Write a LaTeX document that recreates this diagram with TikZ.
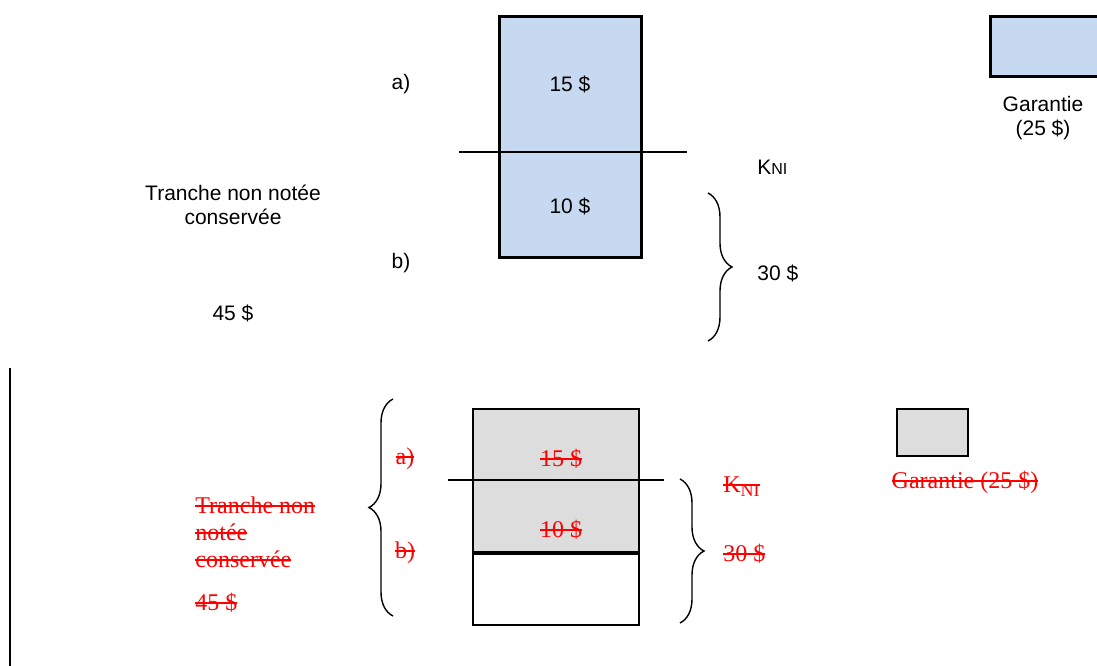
\documentclass[tikz,border=0pt]{standalone}
\usepackage{fontspec}
\setmainfont{Liberation Serif}
\newfontfamily\arialfont{Liberation Sans}
\usepackage{tikz}
\usetikzlibrary{decorations.pathreplacing}
\definecolor{bleu}{RGB}{198,217,240}
\definecolor{gris}{RGB}{221,221,221}
\newcommand{\barrer}[1]{\setbox0\hbox{#1}\rlap{\raisebox{0.27em}{\rule{\wd0}{1pt}}}\box0}

\begin{document}
\begin{tikzpicture}[x=0.5pt, y=-0.5pt,
	sans/.style = {font=\arialfont\fontsize{10.5}{12.2}\selectfont, align=center},
	barre/.style = {text=red, font=\fontsize{12}{13.5}\selectfont, inner sep=0pt},
	haut/.style = {draw, line width=1.5pt, fill=bleu, inner sep=0pt},
	bas/.style = {draw, line width=1pt, inner sep=0pt},
	accolade/.style = {decorate, decoration={brace, amplitude=12pt}, line width=0.7pt}]
		\clip (0,0) rectangle (1097,665);
		% partie du haut
		\node[haut, minimum width=71pt, minimum height=120.5pt] (pile) at (570,137) {};
		\node[haut, minimum width=60pt, minimum height=30pt] (garantie) at (1050,46.5) {};
		\node[sans] (a) at (401,84) {a)};
		\node[sans] (quinze) at (570,84) {15 \$};
		\node[sans] (dix) at (570,206) {10 \$};
		\node[sans] (b) at (401,263) {b)};
		\coordinate (kg) at (459,152);
		\coordinate (kd) at (687,152);
		\draw[line width=1pt] (kg) -- (kd);
		\node[sans, anchor=west, inner sep=0pt] (kni) at (757,167) {K{\fontsize{8}{9}\selectfont NI}};
		\coordinate (ah) at (708,193);
		\coordinate (ab) at (708,341);
		\draw[accolade] (ah) -- (ab);
		\node[sans, anchor=west, inner sep=0pt] (trente) at (757,273) {30 \$};
		\node[sans] (tranche) at (233,205) {Tranche non notée\\conservée};
		\node[sans] (quarante) at (233,313) {45 \$};
		\node[sans] (texteg) at (1043,118) {Garantie\\(25 \$)};
		% partie du bas
		\coordinate (vh) at (10,368);
		\coordinate (vb) at (10,670);
		\draw[line width=1pt] (vh) -- (vb);
		\node[bas, fill=gris, minimum width=83pt, minimum height=71.5pt] (gris) at (556,480.5) {};
		\node[bas, minimum width=83pt, minimum height=35.5pt, anchor=north] (blanc) at (gris.south) {};
		\node[bas, fill=gris, minimum width=35.5pt, minimum height=23.5pt] (rgarantie) at (932.5,432.5) {};
		\node[barre] (ra) at (405,459) {\barrer{a)}};
		\node[barre] (rquinze) at (561,459) {\barrer{15 \$}};
		\node[barre] (rdix) at (561,530) {\barrer{10 \$}};
		\node[barre] (rb) at (405,553) {\barrer{b)}};
		\coordinate (rkg) at (448,480);
		\coordinate (rkd) at (664,480);
		\draw[line width=1pt] (rkg) -- (rkd);
		\coordinate (gh) at (393,399);
		\coordinate (gb) at (393,616);
		\draw[accolade] (gb) -- (gh);
		\coordinate (dh) at (680,479);
		\coordinate (db) at (680,623);
		\draw[accolade] (dh) -- (db);
		\node[barre, anchor=west] (rkni) at (723,487) {\barrer{K\lower2pt\hbox{\fontsize{9}{9}\selectfont NI}}};
		\node[barre, anchor=west] (rtrente) at (723,554) {\barrer{30 \$}};
		\node[barre, anchor=west, align=left] (rtranche) at (195,532) {\barrer{Tranche non}\\\barrer{notée}\\\barrer{conservée}};
		\node[barre, anchor=west] (rquarante) at (195,603) {\barrer{45 \$}};
		\node[barre] (rtexteg) at (965,482) {\barrer{Garantie (25 \$)}};
	\end{tikzpicture}
\end{document}
